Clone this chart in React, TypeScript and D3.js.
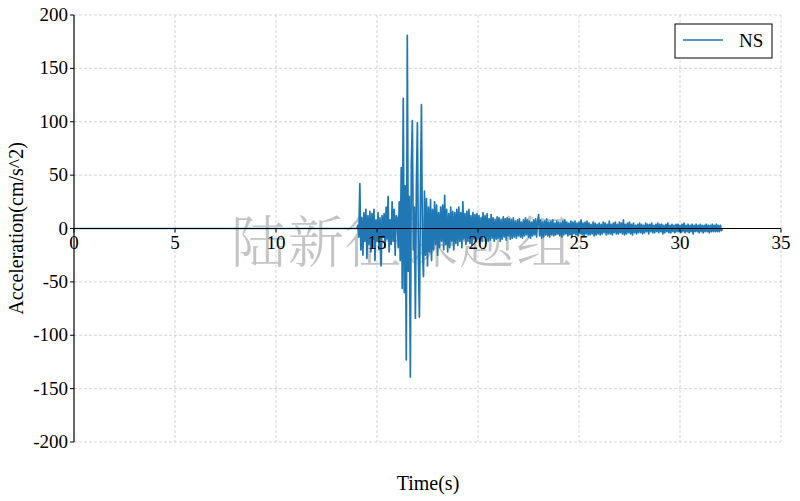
import React from "react";
import * as d3 from "d3";

const xTicks = [0, 5, 10, 15, 20, 25, 30, 35];
const yTicks = [-200, -150, -100, -50, 0, 50, 100, 150, 200];
const seriesName = "NS";
const watermark = "陆新征课题组";
const xLabel = "Time(s)";
const yLabel = "Acceleration(cm/s^2)";

// quiet part of the record (before the arrival)
const quietTimes = [0, 14];
const recordStart = 14;
const dt = 0.05;
// acceleration samples (cm/s^2) from 14.00 s, every 0.05 s
const accel = [
  // 14
  0, 3, -8, 42, -20, 10, -25, 15, -12, 18, -28, 12, -15, 16, -22, 14, -10, 18, -30, 8,
  // 15
  -12, 15, -20, 10, -35, 12, -8, 14, -18, 20, -10, 30, -22, 8, -15, 25, -12, 18, -25, 12,
  // 16
  10, -18, 25, -30, 57, -56, 122, -60, 40, -123, 181, -40, 30, -139, 60, 101, -20, 20, -84, 40,
  // 17
  99, -30, -83, 30, 116, -20, -45, 35, -25, 28, -35, 20, -22, 27, -30, 18, -20, 25, -15, 22,
  // 18
  -25, 15, -18, 20, -12, 22, -20, 31, -15, 18, -22, 14, -18, 20, -12, 16, -20, 15, -14, 18,
  // 19
  -16, 20, -12, 15, -18, 25, -10, 14, -15, 16, -12, 18, -14, 12, -16, 15, -10, 13, -12, 14,
  // 20
  -10, 12, -14, 10, -12, 15, -8, 12, -10, 14, -12, 9, -11, 13, -9, 10, -12, 8, -10, 11,
  // 21
  -9, 10, -12, 8, -10, 11, -8, 9, -11, 10, -7, 9, -10, 8, -9, 10, -8, 7, -9, 8,
  // 22
  -7, 9, -8, 6, -9, 8, -7, 10, -6, 8, -8, 7, -9, 6, -7, 8, -6, 9, -8, 7,
  // 23
  13, -7, 8, -9, 6, -8, 7, -6, 9, -7, 6, -8, 7, -6, 8, -7, 5, -6, 7, -5,
  // 24
  6, -7, 5, -8, 7, -6, 8, -5, 6, -7, 5, -6, 7, -8, 6, -5, 7, -6, 5, -7,
  // 25
  6, -5, 8, -6, 5, -7, 6, -5, 7, -6, 5, -6, 4, -5, 6, -7, 5, -6, 4, -5,
  // 26
  5, -6, 4, -5, 6, -4, 5, -6, 4, -5, 7, -5, 4, -6, 5, -4, 6, -5, 4, -5,
  // 27
  6, -4, 5, -5, 8, -6, 4, -5, 5, -4, 6, -5, 4, -6, 5, -4, 3, -5, 4, -4,
  // 28
  5, -4, 4, -5, 3, -4, 5, -3, 4, -5, 4, -3, 5, -4, 3, -4, 4, -3, 5, -4,
  // 29
  4, -3, 4, -5, 3, -4, 4, -3, 5, -4, 3, -4, 4, -3, 3, -4, 4, -3, 4, -3,
  // 30
  3, -4, 4, -3, 5, -4, 3, -3, 4, -4, 3, -3, 4, -5, 3, -3, 4, -3, 3, -4,
  // 31
  4, -3, 3, -4, 3, -3, 4, -3, 3, -4, 3, -3, 4, -3, 3, -3, 4, -3, 3, -3,
  // 32
  3, -2, 0,
];

const W = 800;
const H = 501;
const FONT = "Liberation Serif, DejaVu Serif, serif";

export default function App() {
  const left = 74, right = 781, top = 15, bottom = 442;
  const x = d3.scaleLinear().domain([0, 35]).range([left, right]);
  const y = d3.scaleLinear().domain([-200, 200]).range([bottom, top]);

  const points: [number, number][] = [
    ...quietTimes.map((t) => [t, 0] as [number, number]),
    ...accel.map((v, i) => [recordStart + i * dt, v] as [number, number]),
  ];
  const line = d3
    .line<[number, number]>()
    .x((d) => x(d[0]))
    .y((d) => y(d[1]));

  const gridColor = "#c8c8c8";
  const ts = { fontFamily: FONT };

  return (
    <svg
      width={W}
      height={H}
      style={{ position: "absolute", left: 0, top: 0, background: "#fff" }}
    >
      {/* grid */}
      {xTicks.filter((t) => t !== 0).map((t) => (
        <line key={"gx" + t} x1={x(t)} x2={x(t)} y1={top} y2={bottom}
          stroke={gridColor} strokeWidth={0.8} strokeDasharray="3,2" />
      ))}
      {yTicks.filter((t) => t !== 0).map((t) => (
        <line key={"gy" + t} x1={left} x2={right} y1={y(t)} y2={y(t)}
          stroke={gridColor} strokeWidth={0.8} strokeDasharray="3,2" />
      ))}

      {/* watermark */}
      <text x={402} y={262} textAnchor="middle" fontSize={56}
        style={{ fontFamily: "'Noto Serif CJK SC', 'Noto Sans CJK SC', serif" }}
        fill="#c4c4c4" fontWeight={300} letterSpacing={1}>
        {watermark}
      </text>

      {/* data */}
      <path d={line(points) || ""} fill="none" stroke="#1f77b4" strokeWidth={1.7}
        strokeLinejoin="round" />

      {/* x axis at zero */}
      <line x1={left} x2={right} y1={y(0)} y2={y(0)} stroke="#000" strokeWidth={1.2} />
      {xTicks.map((t) => (
        <g key={"xt" + t}>
          <line x1={x(t)} x2={x(t)} y1={y(0)} y2={y(0) + 4} stroke="#000" strokeWidth={1} />
          <text x={x(t)} y={y(0) + 20} textAnchor="middle" fontSize={19} fill="#000" style={ts}>{t}</text>
        </g>
      ))}

      {/* y axis */}
      <line x1={left} x2={left} y1={top} y2={bottom} stroke="#000" strokeWidth={1.2} />
      {yTicks.map((t) => (
        <g key={"yt" + t}>
          <line x1={left - 4} x2={left} y1={y(t)} y2={y(t)} stroke="#000" strokeWidth={1} />
          <text x={left - 6} y={y(t) + 6} textAnchor="end" fontSize={19} fill="#000" style={ts}>{t}</text>
        </g>
      ))}

      {/* labels */}
      <text x={428} y={490} textAnchor="middle" fontSize={20} fill="#000" style={ts}>{xLabel}</text>
      <text transform={`translate(23,${(top + bottom) / 2}) rotate(-90)`} textAnchor="middle"
        fontSize={20} fill="#000" style={ts}>{yLabel}</text>

      {/* legend */}
      <rect x={675} y={24} width={97} height={34} fill="#fff" stroke="#000" strokeWidth={1} />
      <line x1={683} x2={723} y1={40} y2={40} stroke="#1f77b4" strokeWidth={1.5} />
      <text x={739} y={47} fontSize={19} fill="#000" style={ts}>{seriesName}</text>
    </svg>
  );
}
